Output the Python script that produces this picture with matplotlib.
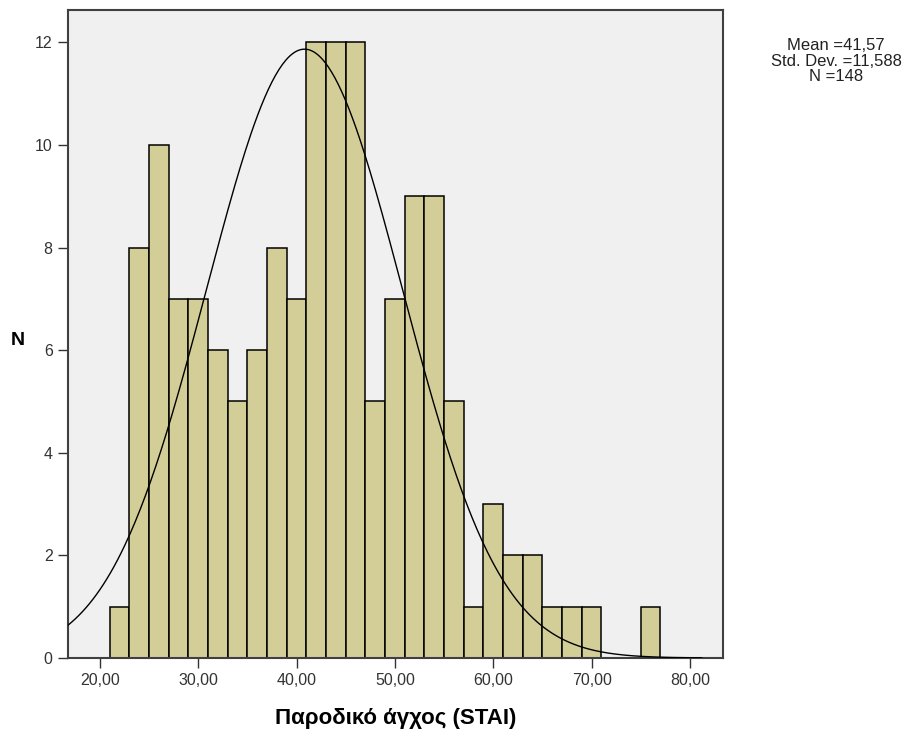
import numpy as np
import matplotlib
matplotlib.use('Agg')
import matplotlib.pyplot as plt

plt.rcParams['font.family'] = ['Liberation Sans', 'DejaVu Sans']

# histogram bins (left edges, width 2) and counts
bin_left = [21, 23, 25, 27, 29, 31, 33, 35, 37, 39, 41, 43, 45, 47,
            49, 51, 53, 55, 57, 59, 61, 63, 65, 67, 69, 71, 73, 75]
counts = [1, 8, 10, 7, 7, 6, 5, 6, 8, 7, 12, 12, 12, 5,
          7, 9, 9, 5, 1, 3, 2, 2, 1, 1, 1, 0, 0, 1]
bin_width = 2

# fitted normal curve as drawn (peak ~11.8 near 40.8)
curve_mean = 40.8
curve_sd = 9.95
n_total = 148

x_ticks = [20, 30, 40, 50, 60, 70, 80]
x_ticklabels = ['20,00', '30,00', '40,00', '50,00', '60,00', '70,00', '80,00']
y_ticks = [0, 2, 4, 6, 8, 10, 12]

stats_text = 'Mean =41,57\nStd. Dev. =11,588\nN =148'

fig = plt.figure(figsize=(9.07, 7.36), dpi=100)
ax = fig.add_axes([0.075, 0.106, 0.722, 0.881])
ax.set_facecolor('#f0f0f0')

ax.bar(bin_left, counts, width=bin_width, align='edge',
       color='#d3ce97', edgecolor='black', linewidth=1.1, zorder=2)

xs = np.linspace(10, 81.2, 400)
ys = n_total * bin_width / (curve_sd * np.sqrt(2 * np.pi)) * \
    np.exp(-0.5 * ((xs - curve_mean) / curve_sd) ** 2)
ax.plot(xs, ys, color='black', linewidth=1.0, zorder=3)

ax.set_xlim(16.75, 83.35)
ax.set_ylim(0, 12.64)
ax.set_xticks(x_ticks)
ax.set_xticklabels(x_ticklabels)
ax.set_yticks(y_ticks)
ax.tick_params(axis='both', direction='out', length=7, width=1,
               color='#333333', labelsize=11.5, labelcolor='#333333', pad=4)

for sp in ax.spines.values():
    sp.set_color('#404040')
    sp.set_linewidth(1.5)

ax.set_xlabel('Παροδικό άγχος (STAI)', fontsize=16, fontweight='bold', labelpad=14)
fig.text(0.02, 0.538, 'N', fontsize=14, fontweight='bold', ha='center', va='center')

fig.text(0.922, 0.948, stats_text, fontsize=12, ha='center', va='top',
         linespacing=1.05, color='#222222')

fig.savefig('out.png', dpi=100)
